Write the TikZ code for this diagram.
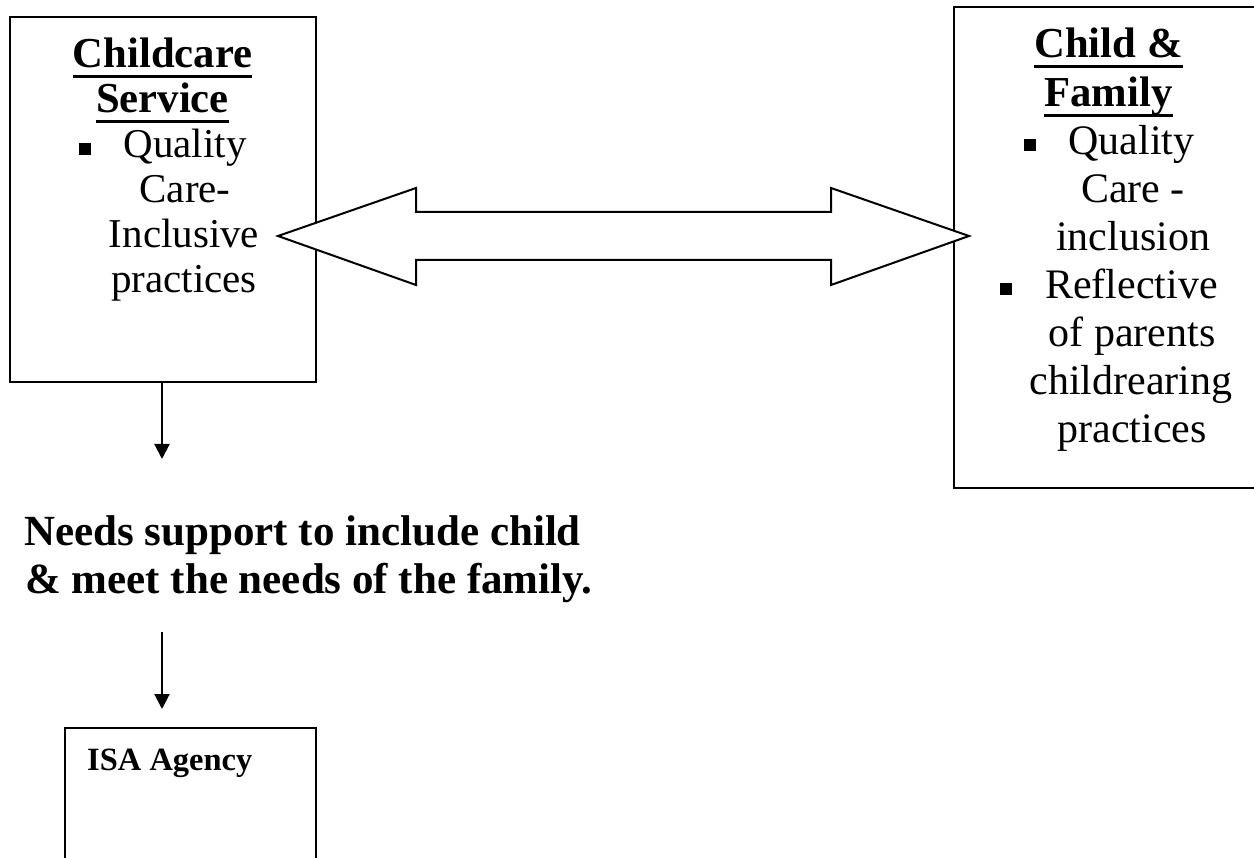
\documentclass[tikz,border=0pt]{standalone}
\usepackage{fontspec}
\setmainfont{Liberation Serif}
\usetikzlibrary{arrows.meta}
\newcommand\myul[1]{\setbox0\hbox{#1}\rlap{\rule[-10.5pt]{\wd0}{3pt}}\box0}
\newcommand\mysq{\rule[3pt]{12pt}{12pt}\hspace{33pt}}
\begin{document}
\begin{tikzpicture}[x=1pt,y=-1pt,
  boxst/.style={draw,line width=2pt,inner sep=0pt,outer sep=0pt,anchor=north west},
  ttl/.style={anchor=base,inner sep=0pt,font=\fontsize{42.7}{48}\selectfont\bfseries},
  lbody/.style={anchor=base,inner sep=0pt,font=\fontsize{41}{45}\selectfont},
  rbody/.style={anchor=base,inner sep=0pt,font=\fontsize{42}{48}\selectfont},
  needst/.style={anchor=base west,inner sep=0pt,font=\fontsize{43}{48}\selectfont\bfseries},
  conn/.style={line width=2pt,-{Triangle[width=15pt,length=15pt]}}]
\useasboundingbox (0,0) rectangle (1254,858);
\fill[white] (0,0) rectangle (1254,858);
% boxes
\node[boxst,minimum width=306pt,minimum height=365pt] (cs) at (10,17) {};
\node[boxst,minimum width=308pt,minimum height=481pt] (cf) at (954,7) {};
\node[boxst,minimum width=251pt,minimum height=200pt] (isa) at (65,728) {};
% left box text
\node[ttl] (l1) at (162.5,68) {\myul{Childcare}};
\node[ttl] (l2) at (162.5,113) {\myul{Service}};
\node[lbody] (l3) at (162.5,158) {\mysq Quality};
\node[lbody] (l4) at (185,203) {Care-};
\node[lbody] (l5) at (184,248) {Inclusive};
\node[lbody] (l6) at (184,293) {practices};
% right box text
\node[ttl] (r1) at (1108.5,58) {\myul{Child \&}};
\node[ttl] (r2) at (1108.5,106.1) {\myul{Family}};
\node[rbody] (r3) at (1109,154.2) {\mysq Quality};
\node[rbody] (r4) at (1133,202.3) {Care -};
\node[rbody] (r5) at (1133,250.4) {inclusion};
\node[rbody] (r6) at (1109,298.5) {\mysq Reflective};
\node[rbody] (r7) at (1132,346.6) {of parents};
\node[rbody] (r8) at (1131,394.7) {childrearing};
\node[rbody] (r9) at (1132,442.8) {practices};
% double block arrow between boxes
\draw[line width=2pt,fill=white,line join=miter]
  (278,236) -- (416,188) -- (416,212) -- (831,212) -- (831,188) -- (969,236)
  -- (831,285) -- (831,260) -- (416,260) -- (416,285) -- cycle;
% needs text
\node[needst] (n1) at (24,546) {Needs support to include child};
\node[needst] (n2) at (25,594) {\& meet the needs of the family.};
% ISA text
\node[anchor=base west,inner sep=0pt,font=\fontsize{32.5}{36}\selectfont\bfseries] (isat) at (87,770) {ISA Agency};
% connectors
\coordinate (t1) at (162,459);
\coordinate (s2) at (162,632);
\coordinate (t2) at (162,709);
\draw[conn] (cs.south -| t1) -- (t1);
\draw[conn] (s2) -- (t2);
\end{tikzpicture}
\end{document}
